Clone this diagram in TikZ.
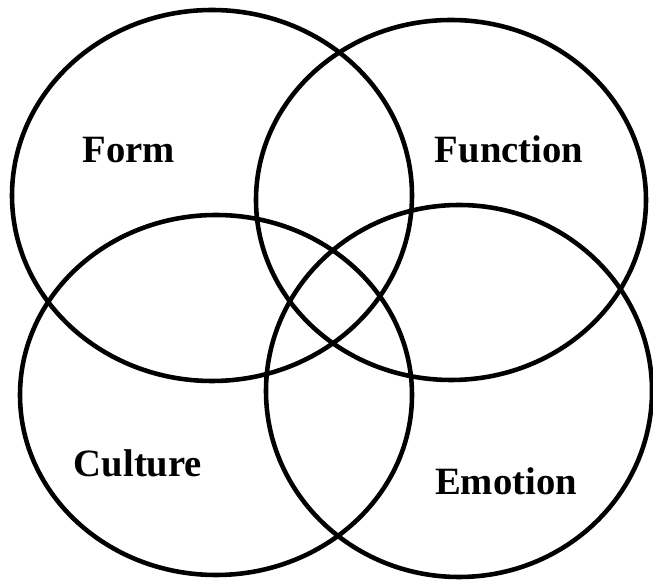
\documentclass[tikz,border=0pt]{standalone}
\usepackage{fontspec}
\setmainfont{Liberation Serif}
\usetikzlibrary{calc}

\begin{document}
\begin{tikzpicture}[x=0.02cm, y=-0.02cm, line width=2.6pt,
  every node/.style={font=\fontsize{22}{26}\selectfont\bfseries, inner sep=0pt, anchor=base},
  ring/.style={draw=black}]
  \useasboundingbox (0,0) rectangle (653,580);
  % the four overlapping ellipses
  \draw[ring] (212,195.5) ellipse [x radius=200, y radius=185.5];
  \draw[ring] (451,200) ellipse [x radius=195, y radius=180];
  \draw[ring] (216,395) ellipse [x radius=196, y radius=180];
  \draw[ring] (459,391) ellipse [x radius=193, y radius=186];
  % labels
  \node (form) at (129,163) {Form};
  \node (function) at (509,163) {Function};
  \node (culture) at (138,477) {Culture};
  \node (emotion) at (506,495) {Emotion};
\end{tikzpicture}
\end{document}
